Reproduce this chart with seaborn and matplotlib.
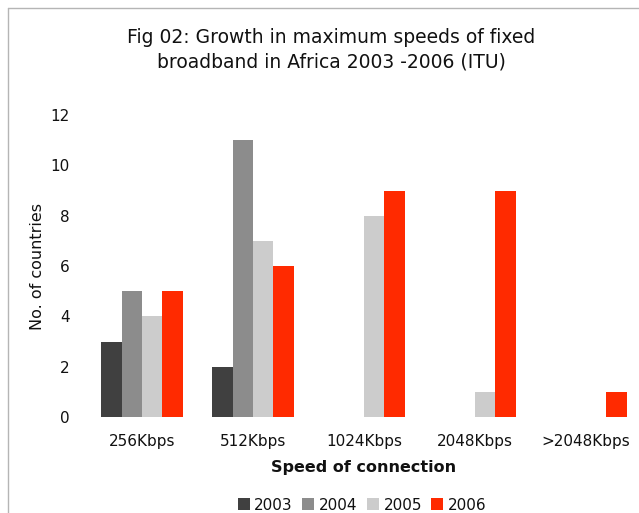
import numpy as np
import pandas as pd
import matplotlib.pyplot as plt
import seaborn as sns
from matplotlib.patches import Patch
from matplotlib.lines import Line2D

speeds = ["256Kbps", "512Kbps", "1024Kbps", "2048Kbps", ">2048Kbps"]
years = ["2003", "2004", "2005", "2006"]
v2003 = [3, 2, 0, 0, 0]
v2004 = [5, 11, 0, 0, 0]
v2005 = [4, 7, 8, 1, 0]
v2006 = [5, 6, 9, 9, 1]
colors = ["#404040", "#8c8c8c", "#cccccc", "#ff2a00"]

df = pd.DataFrame({
    "speed": speeds * 4,
    "year": np.repeat(years, len(speeds)),
    "count": v2003 + v2004 + v2005 + v2006,
})

sns.set_style("white")
plt.rcParams["font.family"] = ["DejaVu Sans"]
plt.rcParams["text.color"] = "#111111"
plt.rcParams["axes.labelcolor"] = "#111111"

fig = plt.figure(figsize=(6.39, 5.13), dpi=100)
ax = fig.add_axes([86.5 / 639, 1 - 417 / 513, 555 / 639, (417 - 115) / 513])

sns.barplot(data=df, x="speed", y="count", hue="year", palette=colors,
            width=0.73, gap=0, saturation=1, legend=False, linewidth=0, ax=ax)

ax.set_xlim(-0.5, 4.5)
ax.set_ylim(0, 12)
ax.set_yticks(range(0, 13, 2))
sns.despine(ax=ax, left=True, bottom=True)
ax.tick_params(axis="both", length=0, labelsize=11, colors="#111111")
ax.tick_params(axis="x", pad=12)
ax.tick_params(axis="y", pad=12)
ax.set_ylabel("No. of countries", fontsize=11.5, labelpad=4)
ax.set_xlabel("Speed of connection", fontsize=11.5, fontweight="bold", labelpad=8)

fig.text(331 / 639, 1 - 50 / 513,
         "Fig 02: Growth in maximum speeds of fixed\nbroadband in Africa 2003 -2006 (ITU)",
         ha="center", va="center", fontsize=13.5, linespacing=1.35)

handles = [Patch(facecolor=c, edgecolor="none") for c in colors]
fig.legend(handles, years, loc="center", bbox_to_anchor=(362 / 639, 1 - 505 / 513),
           ncol=4, frameon=False, fontsize=11, handlelength=0.8, handleheight=0.8,
           handletextpad=0.3, columnspacing=0.6)

# chart frame (top and left edges visible)
fig.add_artist(Line2D([8 / 639, 1], [1 - 8 / 513, 1 - 8 / 513], color="#b5b5b5", lw=1))
fig.add_artist(Line2D([8 / 639, 8 / 639], [0, 1 - 8 / 513], color="#b5b5b5", lw=1))

fig.savefig("out.png", dpi=100)
